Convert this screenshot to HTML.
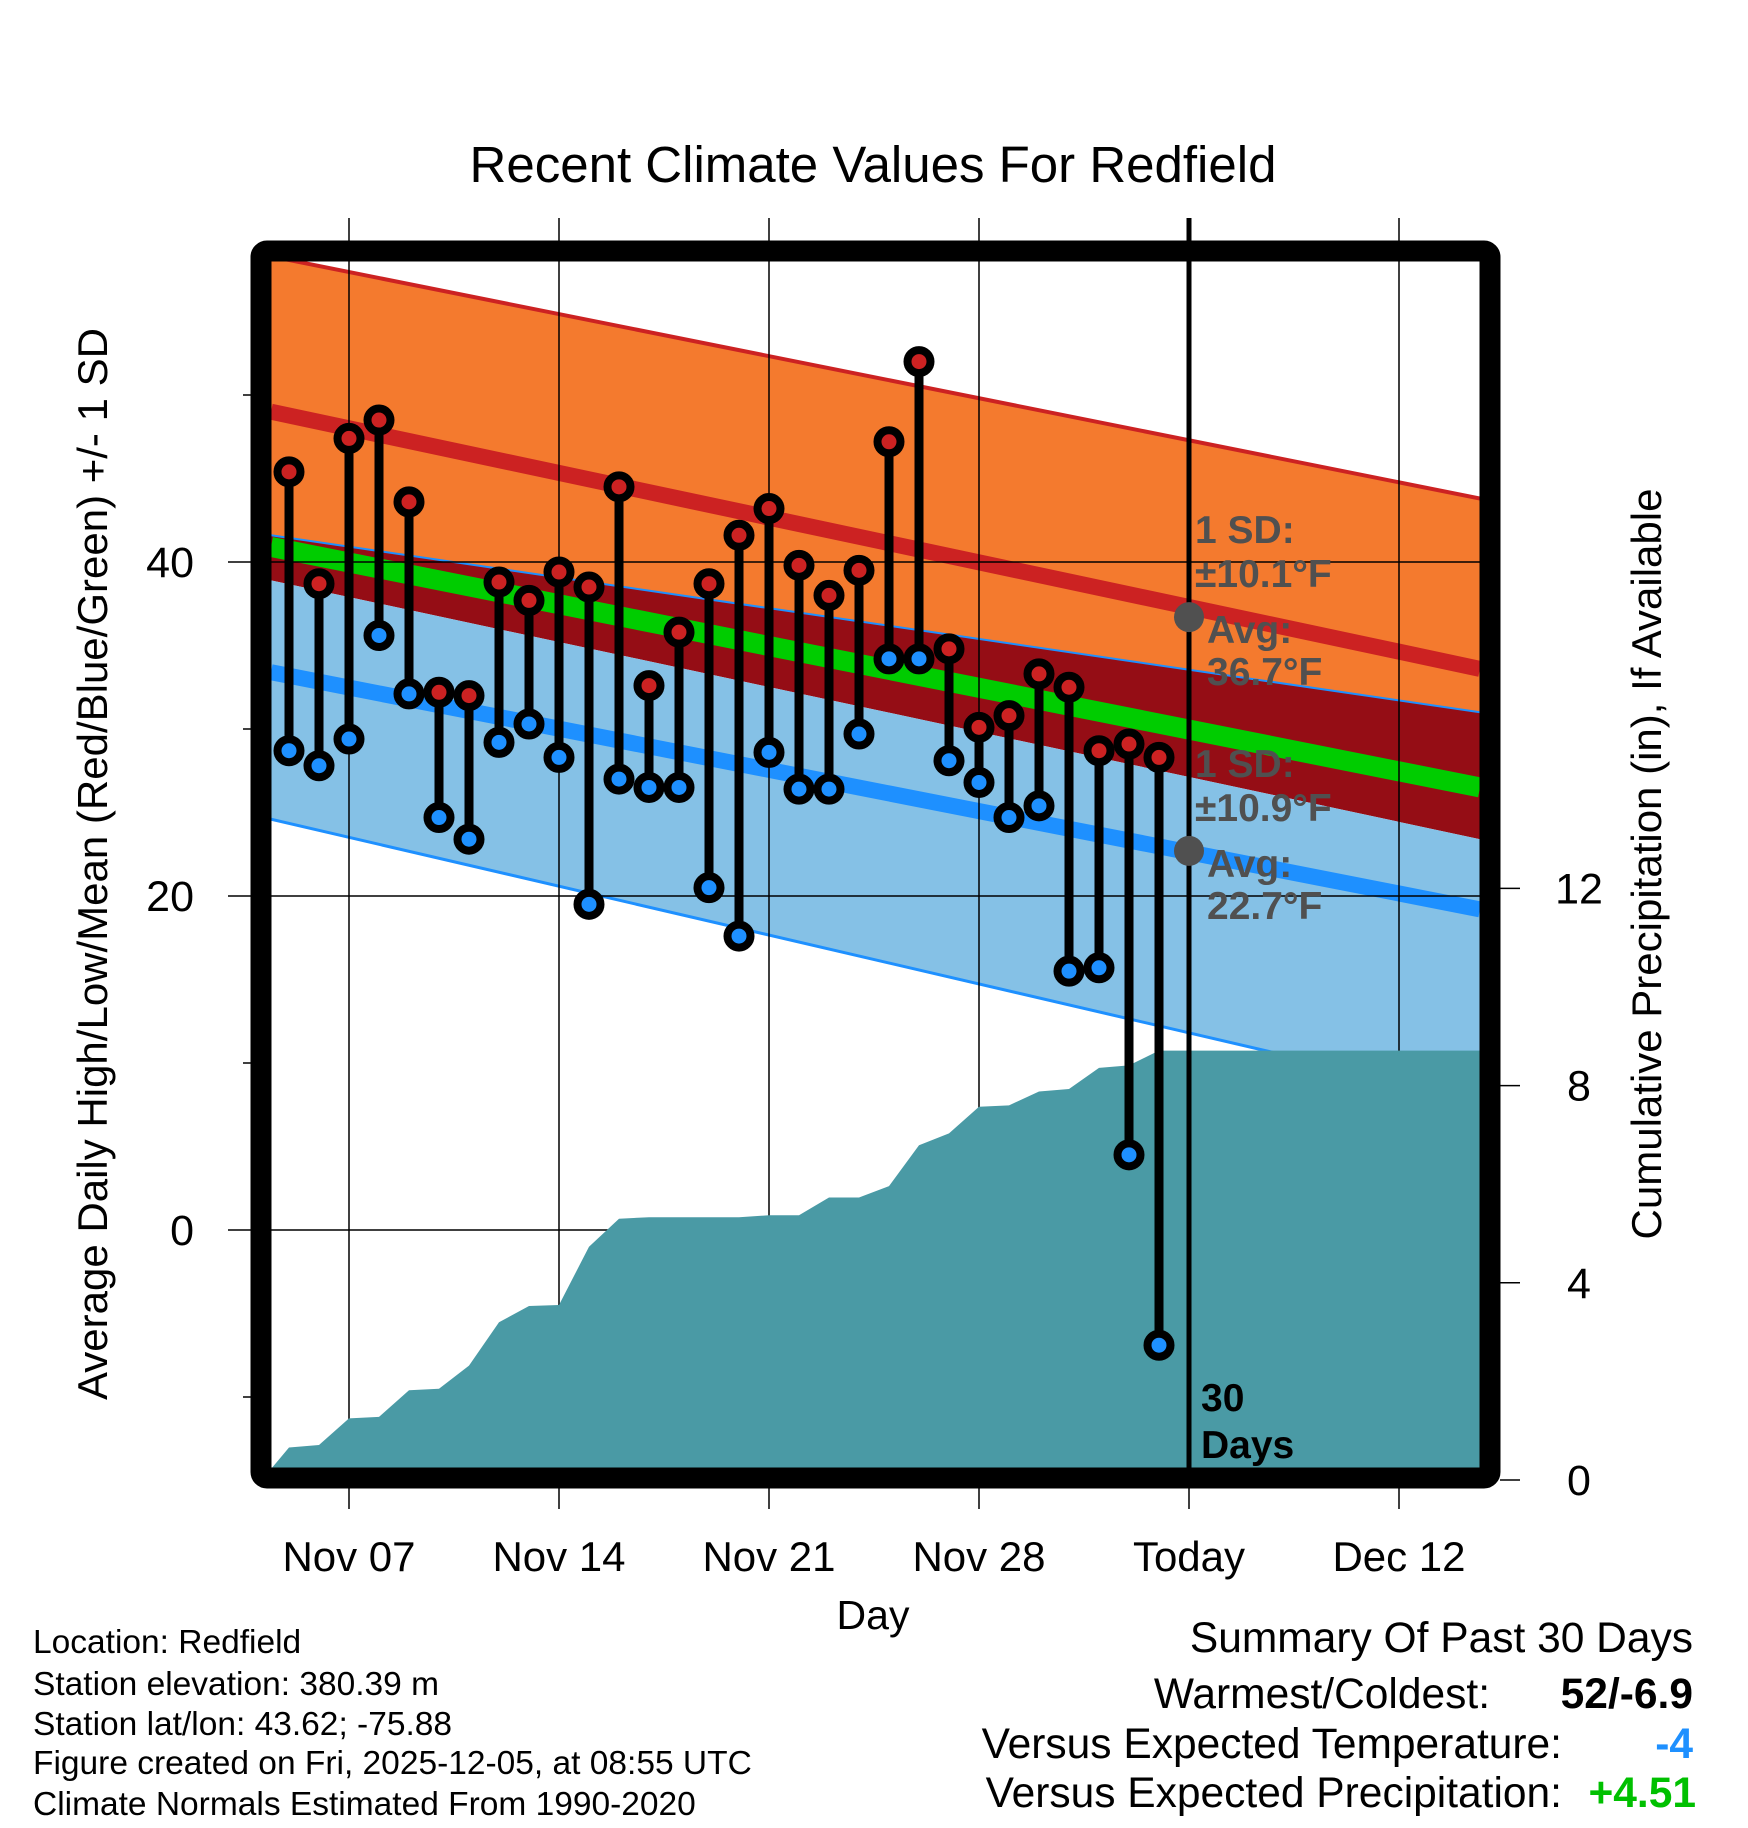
<!DOCTYPE html>
<html><head><meta charset="utf-8"><style>
html,body{margin:0;padding:0;background:#fff;}
svg{display:block;font-family:"Liberation Sans",sans-serif;}
</style></head><body>
<svg id="chart" width="1748" height="1828" viewBox="0 0 1748 1828" xmlns="http://www.w3.org/2000/svg">
<defs><clipPath id="plotclip"><rect x="271" y="261" width="1209" height="1208"/></clipPath></defs>
<text x="873" y="182" font-size="51" text-anchor="middle">Recent Climate Values For Redfield</text>
<g id="bands" clip-path="url(#plotclip)"></g>
<g id="grid"></g>
<g id="precip" clip-path="url(#plotclip)"></g>
<g id="marks"></g>
<rect x="261" y="251" width="1229" height="1227" rx="6" fill="none" stroke="#000" stroke-width="21"/>
<g id="axes"></g>
<g id="annot"></g>
<text x="873" y="1629" font-size="41" text-anchor="middle">Day</text>
<text transform="translate(107,864) rotate(-90)" font-size="42" text-anchor="middle">Average Daily High/Low/Mean (Red/Blue/Green) +/- 1 SD</text>
<text transform="translate(1661,864) rotate(-90)" font-size="42" text-anchor="middle">Cumulative Precipitation (in), If Available</text>
<g font-size="33.5">
<text x="33" y="1653">Location: Redfield</text>
<text x="33" y="1695">Station elevation: 380.39 m</text>
<text x="33" y="1735">Station lat/lon: 43.62; -75.88</text>
<text x="33" y="1774">Figure created on Fri, 2025-12-05, at 08:55 UTC</text>
<text x="33" y="1815">Climate Normals Estimated From 1990-2020</text>
</g>
<g font-size="42.5">
<text x="1693" y="1652" text-anchor="end">Summary Of Past 30 Days</text>
<text x="1490" y="1708" text-anchor="end">Warmest/Coldest:</text>
<text x="1693" y="1708" text-anchor="end" font-weight="bold">52/-6.9</text>
<text x="1562" y="1758" text-anchor="end">Versus Expected Temperature:</text>
<text x="1693" y="1758" text-anchor="end" font-weight="bold" fill="#1e90ff">-4</text>
<text x="1562" y="1807" text-anchor="end">Versus Expected Precipitation:</text>
<text x="1696" y="1807" text-anchor="end" font-weight="bold" fill="#00c000">+4.51</text>
</g>
</svg>
<script>
// Day index: November day number (Dec 1 = 31)
const days = [5,6,7,8,9,10,11,12,13,14,15,16,17,18,19,20,21,22,23,24,25,26,27,28,29,30,31,32,33,34];
const highs = [45.4,38.7,47.4,48.5,43.6,32.2,32.0,38.8,37.7,39.4,38.5,44.5,32.6,35.8,38.7,41.6,43.2,39.8,38.0,39.5,47.2,52.0,34.8,30.1,30.8,33.3,32.5,28.7,29.1,28.3];
const lows = [28.7,27.8,29.4,35.6,32.1,24.7,23.4,29.2,30.3,28.3,19.5,27.0,26.5,26.5,20.5,17.6,28.6,26.4,26.4,29.7,34.2,34.2,28.1,26.8,24.7,25.4,15.5,15.7,4.5,-6.9];
const precip = [0.66,0.71,1.25,1.28,1.82,1.85,2.32,3.2,3.53,3.55,4.73,5.3,5.33,5.33,5.33,5.33,5.37,5.37,5.73,5.73,5.96,6.79,7.03,7.57,7.6,7.88,7.93,8.36,8.41,8.71];
// Normals at plot start/end days
const normDays = [4.4,44.7];
const hiPlus = [58.3,43.8];
const hiMean = [49.0,33.6];
const hiMinus = [38.9,23.4];
const meanT = [40.9,26.5];
const loPlus = [41.6,31.0];
const loMean = [33.4,19.2];
const loMinus = [24.6,7.75];
const xTickDays = [7,14,21,28,35,42];
const xTickLabels = ["Nov 07","Nov 14","Nov 21","Nov 28","Today","Dec 12"];
const yMajor = [40,20,0];
const yMinor = [50,30,10,-10];
const pTicks = [0,4,8,12];
const todayDay = 35;

const X = d => 349 + (d-7)*30;
const Y = t => 1230 - t*16.7;
const P = p => 1480 - p*49.3;
const NS='http://www.w3.org/2000/svg';
function mk(tag, parent, attrs){const e=document.createElementNS(NS,tag);for(const k in attrs)e.setAttribute(k,attrs[k]);parent.appendChild(e);return e;}
const bands=document.getElementById('bands'), grid=document.getElementById('grid'), pr=document.getElementById('precip'), marks=document.getElementById('marks'), axes=document.getElementById('axes'), annot=document.getElementById('annot');
const x0=X(normDays[0]), x1=X(normDays[1]);
function band(top,bot,fill,name){
  const e=mk('polygon',bands,{points:`${x0},${Y(top[0])} ${x1},${Y(top[1])} ${x1},${Y(bot[1])} ${x0},${Y(bot[0])}`,fill:fill});
  
  
}
function line(v,stroke,w,name){
  const e=mk('line',bands,{x1:x0,y1:Y(v[0]),x2:x1,y2:Y(v[1]),stroke:stroke,'stroke-width':w});
  
  
}
band(hiPlus,loPlus,'#f47a2e','high-sd-band');
band(loPlus,hiMinus,'#950d15','overlap-band');
band(hiMinus,loMinus,'#85c1e6','low-sd-band');
line(meanT,'#00cc00',20,'mean-line');
line(hiMean,'#cc2222',16,'high-mean-line');
line(loMean,'#1e90ff',16,'low-mean-line');
line(hiPlus,'#cc2222',4,'high-plus-sd-line');
line(loPlus,'#1e90ff',2,'low-plus-sd-line');
line(loMinus,'#1e90ff',3,'low-minus-sd-line');

// precipitation area
let pts=`271,1469 `;
days.forEach((d,i)=>{pts+=`${X(d)},${P(precip[i])} `;});
pts+=`1480,${P(precip[precip.length-1])} 1480,1480 271,1480`;
const pa=mk('polygon',pr,{points:pts,fill:'#4a9aa5'});



// grid
xTickDays.forEach(d=>{
  const g=mk('line',grid,{x1:X(d),y1:218,x2:X(d),y2:1509,stroke:'#000','stroke-width':1.5});
  
  
});
yMajor.forEach(t=>{
  const g=mk('line',grid,{x1:228,y1:Y(t),x2:1500,y2:Y(t),stroke:'#000','stroke-width':1.5});
  
  
});
yMinor.forEach(t=>{
  const g=mk('line',grid,{x1:243,y1:Y(t),x2:262,y2:Y(t),stroke:'#000','stroke-width':1.5});
  
  
});
// today line
const tl=mk('line',marks,{x1:X(todayDay),y1:218,x2:X(todayDay),y2:1480,stroke:'#000','stroke-width':5});



// stems and dots
days.forEach((d,i)=>{
  const s=mk('line',marks,{x1:X(d),y1:Y(highs[i]),x2:X(d),y2:Y(lows[i]),stroke:'#000','stroke-width':9});
  
  
});
days.forEach((d,i)=>{
  const h=mk('circle',marks,{cx:X(d),cy:Y(highs[i]),r:11.5,fill:'#cc2222',stroke:'#000','stroke-width':8});
  
  
  const l=mk('circle',marks,{cx:X(d),cy:Y(lows[i]),r:11.5,fill:'#1e90ff',stroke:'#000','stroke-width':8});
  
  
});

// axis labels
xTickDays.forEach((d,i)=>{
  const t=mk('text',axes,{x:X(d),y:1571,'font-size':42,'text-anchor':'middle'});
  t.textContent=xTickLabels[i];
  
  
});
yMajor.forEach(v=>{
  const t=mk('text',axes,{x:194,y:Y(v)+15,'font-size':43,'text-anchor':'end'});
  t.textContent=v;
  
  
});
pTicks.forEach(v=>{
  const k=mk('line',axes,{x1:1500,y1:P(v),x2:1520,y2:P(v),stroke:'#000','stroke-width':1.5});
  
  
  const t=mk('text',axes,{x:1579,y:P(v)+15,'font-size':43,'text-anchor':'middle'});
  t.textContent=v;
  
  
});

// annotations
const hiAvg=36.7, loAvg=22.7;
[[hiAvg,'±10.1°F','high'],[loAvg,'±10.9°F','low']].forEach(([avg,sd,nm])=>{
  const c=mk('circle',annot,{cx:X(todayDay),cy:Y(avg),r:15,fill:'#505050'});
  
  
  const by=Y(avg);
  const lines=[['1 SD:',1195,by-74],[sd,1195,by-30],['Avg:',1207,by+26],[avg.toFixed(1)+'°F',1207,by+68]];
  lines.forEach(([s,x,y])=>{
    const t=mk('text',annot,{x:x,y:y,'font-size':39,'font-weight':'bold',fill:'#505050'});
    t.textContent=s;
    
    
  });
});
[['30',1411],['Days',1458]].forEach(([s,y])=>{
  const t=mk('text',annot,{x:1201,y:y,'font-size':39,'font-weight':'bold'});
  t.textContent=s;
  
  
});
</script>
</body></html>
